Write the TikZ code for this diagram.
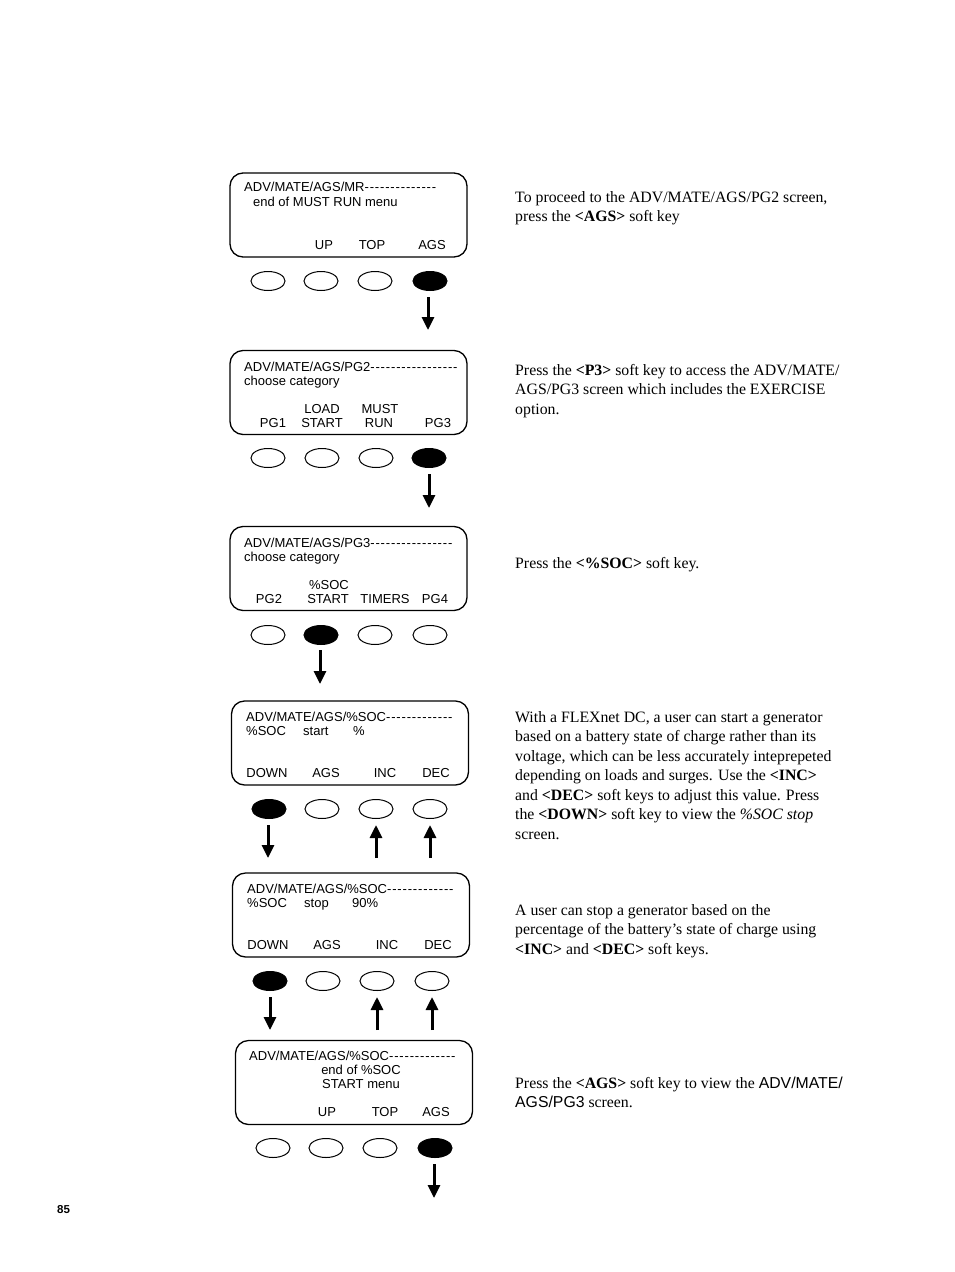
\documentclass[tikz,border=0pt]{standalone}
\usepackage{fontspec}
\setmainfont{Liberation Serif}
\setsansfont{Liberation Sans}
\newfontfamily\lcdfont{Liberation Sans}
\usetikzlibrary{shapes.geometric,arrows.meta}
\makeatletter
\newcommand\lcddashes[1]{\@tempcnta=#1\relax\@whilenum\@tempcnta>0\do{-\kern0.85pt\advance\@tempcnta-1\relax}}
\makeatother
\tikzset{
 screen/.style={draw, line width=1.3pt, rounded corners=13pt, minimum width=237pt, minimum height=84pt, inner sep=0pt},
 key/.style={draw, ellipse, line width=1pt, minimum width=34pt, minimum height=19pt, inner sep=0pt},
 keyon/.style={key, fill=black},
 lcd/.style={font=\lcdfont\fontsize{13}{14}\selectfont, inner sep=0pt},
 lcdl/.style={lcd, anchor=base west},
 lcdc/.style={lcd, anchor=base},
 arr/.style={line width=3pt, -{Triangle[width=12pt,length=13pt]}},
 desc/.style={anchor=base west, inner sep=0pt, font=\fontsize{15.8}{19.5}\selectfont},
}
\begin{document}
\begin{tikzpicture}[x=1pt,y=-1pt]
\useasboundingbox (0,0) rectangle (954,1272);

% ---------- Screen 1 ----------
\node[screen] (s1) at (348.5,215) {};
\node[lcdl] (s1t) at (244,191) {ADV/MATE/AGS/MR\lcddashes{14}};
\node[lcdl] (s1a) at (253,206) {end of MUST RUN menu};
\node[lcdc] (s1k2) at (324,249) {UP};
\node[lcdc] (s1k3) at (372,249) {TOP};
\node[lcdc] (s1k4) at (432,249) {AGS};
\node[key] (k11) at (268,281) {};
\node[key] (k12) at (321,281) {};
\node[key] (k13) at (375,281) {};
\node[keyon] (k14) at (430,281) {};
\coordinate (a1s) at (428,297);
\coordinate (a1e) at (428,330);
\draw[arr] (a1s) -- (a1e);

% ---------- Screen 2 ----------
\node[screen] (s2) at (348.5,392.5) {};
\node[lcdl] (s2t) at (244,371) {ADV/MATE/AGS/PG2\lcddashes{17}};
\node[lcdl] (s2a) at (244,385) {choose category};
\node[lcdc] (s2u2) at (322,413) {LOAD};
\node[lcdc] (s2u3) at (380,413) {MUST};
\node[lcdc] (s2k1) at (273,427) {PG1};
\node[lcdc] (s2k2) at (322,427) {START};
\node[lcdc] (s2k3) at (379,427) {RUN};
\node[lcdc] (s2k4) at (438,427) {PG3};
\node[key] (k21) at (268,458) {};
\node[key] (k22) at (322,458) {};
\node[key] (k23) at (376,458) {};
\node[keyon] (k24) at (429,458) {};
\coordinate (a2s) at (429,474);
\coordinate (a2e) at (429,508);
\draw[arr] (a2s) -- (a2e);

% ---------- Screen 3 ----------
\node[screen] (s3) at (348.5,568.5) {};
\node[lcdl] (s3t) at (244,547) {ADV/MATE/AGS/PG3\lcddashes{16}};
\node[lcdl] (s3a) at (244,561) {choose category};
\node[lcdc] (s3u2) at (329,589) {\%SOC};
\node[lcdc] (s3k1) at (269,603) {PG2};
\node[lcdc] (s3k2) at (328,603) {START};
\node[lcdc] (s3k3) at (385,603) {TIMERS};
\node[lcdc] (s3k4) at (435,603) {PG4};
\node[key] (k31) at (268,635) {};
\node[keyon] (k32) at (321,635) {};
\node[key] (k33) at (375,635) {};
\node[key] (k34) at (430,635) {};
\coordinate (a3s) at (320,650);
\coordinate (a3e) at (320,684);
\draw[arr] (a3s) -- (a3e);

% ---------- Screen 4 ----------
\node[screen] (s4) at (350,743) {};
\node[lcdl] (s4t) at (246,721) {ADV/MATE/AGS/\%SOC\lcddashes{13}};
\node[lcdl] (s4a) at (246,735) {\%SOC};
\node[lcdl] (s4b) at (303,735) {start};
\node[lcdl] (s4c) at (353,735) {\%};
\node[lcdc] (s4k1) at (267,777) {DOWN};
\node[lcdc] (s4k2) at (326,777) {AGS};
\node[lcdc] (s4k3) at (385,777) {INC};
\node[lcdc] (s4k4) at (436,777) {DEC};
\node[keyon] (k41) at (269,809) {};
\node[key] (k42) at (322,809) {};
\node[key] (k43) at (376,809) {};
\node[key] (k44) at (430,809) {};
\coordinate (a41s) at (268,825);
\coordinate (a41e) at (268,858);
\coordinate (a43s) at (376,858);
\coordinate (a43e) at (376,825);
\coordinate (a44s) at (430,858);
\coordinate (a44e) at (430,825);
\draw[arr] (a41s) -- (a41e);
\draw[arr] (a43s) -- (a43e);
\draw[arr] (a44s) -- (a44e);

% ---------- Screen 5 ----------
\node[screen] (s5) at (351,915) {};
\node[lcdl] (s5t) at (247,893) {ADV/MATE/AGS/\%SOC\lcddashes{13}};
\node[lcdl] (s5a) at (247,907) {\%SOC};
\node[lcdl] (s5b) at (304,907) {stop};
\node[lcdl] (s5c) at (352,907) {90\%};
\node[lcdc] (s5k1) at (268,949) {DOWN};
\node[lcdc] (s5k2) at (327,949) {AGS};
\node[lcdc] (s5k3) at (387,949) {INC};
\node[lcdc] (s5k4) at (438,949) {DEC};
\node[keyon] (k51) at (270,981) {};
\node[key] (k52) at (323,981) {};
\node[key] (k53) at (377,981) {};
\node[key] (k54) at (432,981) {};
\coordinate (a51s) at (270,997);
\coordinate (a51e) at (270,1030);
\coordinate (a53s) at (377,1030);
\coordinate (a53e) at (377,997);
\coordinate (a54s) at (432,1030);
\coordinate (a54e) at (432,997);
\draw[arr] (a51s) -- (a51e);
\draw[arr] (a53s) -- (a53e);
\draw[arr] (a54s) -- (a54e);

% ---------- Screen 6 ----------
\node[screen] (s6) at (354,1082.5) {};
\node[lcdl] (s6t) at (249,1060) {ADV/MATE/AGS/\%SOC\lcddashes{13}};
\node[lcdc] (s6a) at (361,1074) {end of \%SOC};
\node[lcdc] (s6b) at (361,1088) {START menu};
\node[lcdc] (s6k2) at (327,1116) {UP};
\node[lcdc] (s6k3) at (385,1116) {TOP};
\node[lcdc] (s6k4) at (436,1116) {AGS};
\node[key] (k61) at (273,1148) {};
\node[key] (k62) at (326,1148) {};
\node[key] (k63) at (380,1148) {};
\node[keyon] (k64) at (435,1148) {};
\coordinate (a6s) at (434,1164);
\coordinate (a6e) at (434,1198);
\draw[arr] (a6s) -- (a6e);

% ---------- Descriptions ----------
\node[desc] (d1) at (515,202) {\parbox[t]{380pt}{\raggedright To proceed to the ADV/MATE/AGS/PG2 screen,\\ press the \textbf{<AGS>} soft key}};
\node[desc] (d2) at (515,375) {\parbox[t]{380pt}{\raggedright Press the \textbf{<P3>} soft key to access the ADV/MATE/\\ AGS/PG3 screen which includes the EXERCISE\\ option.}};
\node[desc] (d3) at (515,568) {\parbox[t]{380pt}{\raggedright Press the \textbf{<\%SOC>} soft key.}};
\node[desc] (d4) at (515,722) {\parbox[t]{380pt}{\raggedright With a FLEXnet DC, a user can start a generator\\ based on a battery state of charge rather than its\\ voltage, which can be less accurately inteprepeted\\ depending on loads and surges. Use the \textbf{<INC>}\\ and \textbf{<DEC>} soft keys to adjust this value. Press\\ the \textbf{<DOWN>} soft key to view the \textit{\%SOC stop}\\ screen.}};
\node[desc] (d5) at (515,915) {\parbox[t]{380pt}{\raggedright A user can stop a generator based on the\\ percentage of the battery’s state of charge using\\ \textbf{<INC>} and \textbf{<DEC>} soft keys.}};
\node[desc] (d6) at (515,1088) {\parbox[t]{380pt}{\raggedright Press the \textbf{<AGS>} soft key to view the {\sffamily ADV/MATE/}\\ {\sffamily AGS/PG3} screen.}};

% ---------- Page number ----------
\node[anchor=base west, inner sep=0pt, font=\sffamily\bfseries\fontsize{11.5}{12}\selectfont] (pg) at (57,1213) {85};
\end{tikzpicture}
\end{document}
